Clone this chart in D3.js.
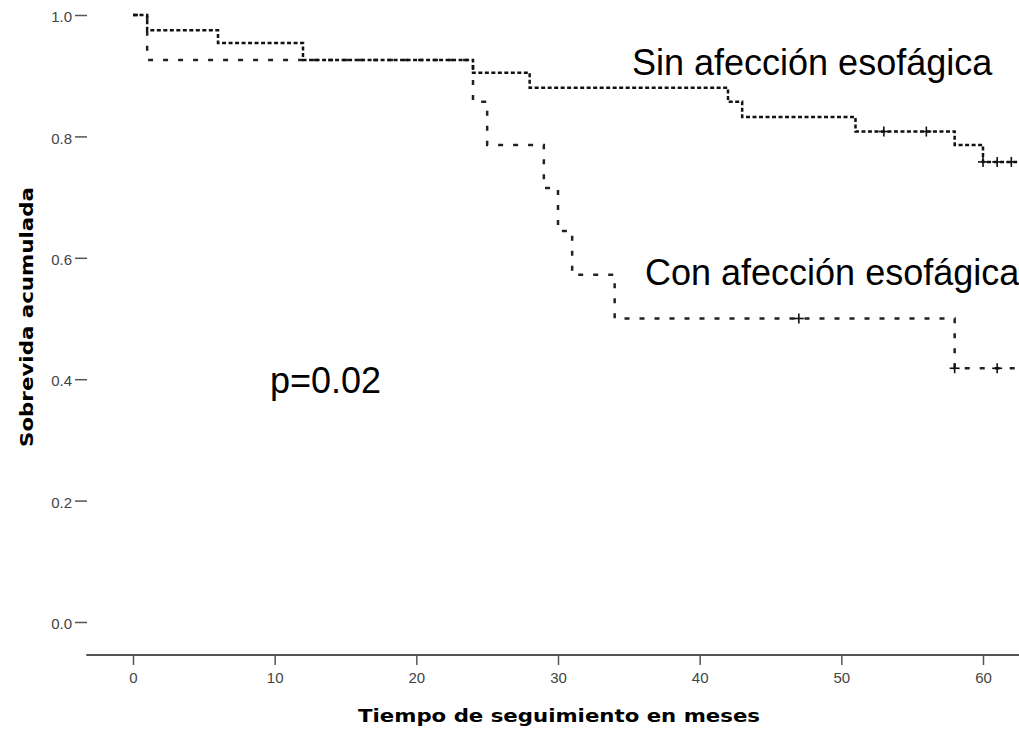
<!DOCTYPE html>
<html>
<head>
<meta charset="utf-8">
<script src="https://cdn.jsdelivr.net/npm/d3@7"></script>
<style>
  html, body { margin: 0; padding: 0; background: #fff; }
  svg { display: block; }
</style>
</head>
<body>
<div id="chart"></div>
<script>
// Kaplan-Meier steps
const sinTimes = [0, 1, 6, 12, 24, 28, 42, 43, 51, 58, 60];
const sinSurv = [1.0, 0.975, 0.954, 0.926, 0.905, 0.880, 0.857, 0.832, 0.808, 0.786, 0.758];
const sinCensor = [53, 56, 60, 61, 62];

const conTimes = [0, 1, 24, 25, 29, 30, 31, 34, 58];
const conSurv = [1.0, 0.926, 0.857, 0.786, 0.715, 0.644, 0.572, 0.5, 0.418];
const conCensor = [47, 58, 61];

const followEnd = 62.6;
const xTicks = [0, 10, 20, 30, 40, 50, 60];
const yTicks = [0, 0.2, 0.4, 0.6, 0.8, 1.0];
const xAxisExtent = [-3.3, 62.6];

const width = 1019, height = 735;

const svg = d3.select("#chart")
  .append("svg")
  .attr("width", width)
  .attr("height", height);

const x = d3.scaleLinear().domain([0, 60]).range([133, 983]);
const y = d3.scaleLinear().domain([0, 1]).range([622, 15]);

// x axis
const xAxis = svg.append("g")
  .attr("transform", "translate(0,655)")
  .call(d3.axisBottom(x).tickValues(xTicks).tickSize(10).tickPadding(7));
xAxis.select(".domain").remove();
xAxis.append("line")
  .attr("x1", x(xAxisExtent[0]))
  .attr("x2", x(xAxisExtent[1]))
  .attr("stroke", "#555")
  .attr("stroke-width", 2);
xAxis.selectAll(".tick line").attr("stroke", "#555").attr("stroke-width", 1.5);
xAxis.selectAll(".tick text")
  .attr("fill", "#444")
  .style("font-family", "Arial, 'Liberation Sans', sans-serif")
  .style("font-size", "15px");

// y axis (ticks only)
const yAxis = svg.append("g")
  .attr("transform", "translate(87,0)")
  .call(d3.axisLeft(y).tickValues(yTicks).tickSize(12).tickPadding(3).tickFormat(d3.format(".1f")));
yAxis.select(".domain").remove();
yAxis.selectAll(".tick line").attr("stroke", "#555").attr("stroke-width", 1.5);
yAxis.selectAll(".tick text")
  .attr("fill", "#444")
  .attr("dy", "0.45em")
  .style("font-family", "Arial, 'Liberation Sans', sans-serif")
  .style("font-size", "15px");

// axis titles
svg.append("text")
  .attr("x", 358)
  .attr("y", 722)
  .attr("textLength", 402)
  .attr("lengthAdjust", "spacingAndGlyphs")
  .text("Tiempo de seguimiento en meses")
  .style("font-family", "'DejaVu Sans', Verdana, sans-serif")
  .style("font-weight", "bold")
  .style("font-size", "18px")
  .attr("fill", "#000");

svg.append("text")
  .attr("transform", "translate(33,447) rotate(-90)")
  .attr("textLength", 260)
  .attr("lengthAdjust", "spacingAndGlyphs")
  .text("Sobrevida acumulada")
  .style("font-family", "'DejaVu Sans', Verdana, sans-serif")
  .style("font-weight", "bold")
  .style("font-size", "18px")
  .attr("fill", "#000");

// survival curves
const line = d3.line()
  .x(d => x(d.t))
  .y(d => y(d.s))
  .curve(d3.curveStepAfter);

function steps(times, surv) {
  const pts = times.map((t, i) => ({ t, s: surv[i] }));
  pts.push({ t: followEnd, s: surv[surv.length - 1] });
  return pts;
}

function survAt(times, surv, t) {
  let s = surv[0];
  times.forEach((tt, i) => { if (tt <= t) s = surv[i]; });
  return s;
}

svg.append("path")
  .datum(steps(conTimes, conSurv))
  .attr("d", line)
  .attr("fill", "none")
  .attr("stroke", "#222")
  .attr("stroke-width", 2.5)
  .attr("stroke-dasharray", "5,10");

svg.append("path")
  .datum(steps(sinTimes, sinSurv))
  .attr("d", line)
  .attr("fill", "none")
  .attr("stroke", "#111")
  .attr("stroke-width", 2.5)
  .attr("stroke-dasharray", "4,2.5");

// censor marks
function censorMarks(cens, times, surv) {
  const g = svg.append("g");
  cens.forEach(t => {
    const cx = x(t), cy = y(survAt(times, surv, t));
    g.append("line")
      .attr("x1", cx - 5).attr("x2", cx + 5)
      .attr("y1", cy).attr("y2", cy)
      .attr("stroke", "#111").attr("stroke-width", 1.6);
    g.append("line")
      .attr("x1", cx).attr("x2", cx)
      .attr("y1", cy - 5).attr("y2", cy + 5)
      .attr("stroke", "#111").attr("stroke-width", 1.6);
  });
}
censorMarks(sinCensor, sinTimes, sinSurv);
censorMarks(conCensor, conTimes, conSurv);

// annotations
const annoFont = "Arial, 'Liberation Sans', sans-serif";
svg.append("text")
  .attr("x", 632).attr("y", 75)
  .text("Sin afección esofágica")
  .style("font-family", annoFont)
  .style("font-size", "36px")
  .attr("fill", "#000");

svg.append("text")
  .attr("x", 645).attr("y", 285)
  .text("Con afección esofágica")
  .style("font-family", annoFont)
  .style("font-size", "36px")
  .attr("fill", "#000");

svg.append("text")
  .attr("x", 270).attr("y", 393)
  .text("p=0.02")
  .style("font-family", annoFont)
  .style("font-size", "36px")
  .attr("fill", "#000");
</script>
</body>
</html>
